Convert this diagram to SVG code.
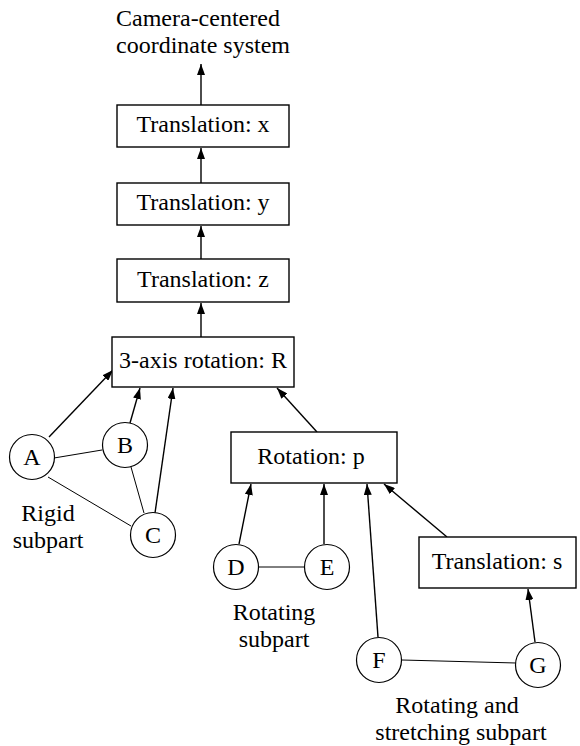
<svg xmlns="http://www.w3.org/2000/svg" width="580" height="746" viewBox="0 0 580 746">
<style>
text{font-family:"Liberation Serif","Times New Roman",serif;font-size:24px;fill:#000}
.m{text-anchor:middle}
.box{fill:#fff;stroke:#000;stroke-width:1.4}
.node{fill:#fff;stroke:#000;stroke-width:1.2}
.arr{stroke:#000;stroke-width:1.4;fill:none;marker-end:url(#ah)}
.lnk{stroke:#000;stroke-width:1;fill:none}
</style>
<defs>
<marker id="ah" markerUnits="userSpaceOnUse" markerWidth="11" markerHeight="8" refX="11" refY="4" orient="auto">
<path d="M0,0 L11,4 L0,8 z" fill="#000"/>
</marker>
</defs>
<g id="title">
<text x="116" y="26">Camera-centered</text>
<text x="116" y="53">coordinate system</text>
</g>
<g id="connectors">
<line class="arr" x1="201" y1="105" x2="201" y2="64"/>
<line class="arr" x1="201" y1="183" x2="201" y2="148"/>
<line class="arr" x1="201" y1="259" x2="201" y2="226"/>
<line class="arr" x1="201" y1="337" x2="201" y2="303"/>
<line class="arr" x1="49" y1="437" x2="113" y2="370"/>
<line class="arr" x1="130" y1="423" x2="140" y2="388"/>
<line class="arr" x1="155" y1="513" x2="173" y2="388"/>
<line class="lnk" x1="54" y1="458" x2="102" y2="450"/>
<line class="lnk" x1="48" y1="477" x2="131" y2="526"/>
<line class="lnk" x1="131" y1="467" x2="144" y2="513"/>
<line class="arr" x1="317" y1="432" x2="277" y2="388"/>
<line class="arr" x1="239" y1="544" x2="251" y2="484"/>
<line class="arr" x1="324" y1="544" x2="324" y2="484"/>
<line class="arr" x1="378" y1="637" x2="367" y2="484"/>
<line class="arr" x1="447" y1="537" x2="384" y2="484"/>
<line class="arr" x1="535" y1="642" x2="528" y2="589"/>
<line class="lnk" x1="259" y1="567" x2="304" y2="567" stroke="#555"/>
<line class="lnk" x1="402" y1="660" x2="516" y2="663"/>
</g>
<g id="tx"><rect class="box" x="117" y="105" width="172" height="42"/><text class="m" x="203" y="132">Translation: x</text></g>
<g id="ty"><rect class="box" x="117" y="183" width="172" height="42"/><text class="m" x="203" y="210">Translation: y</text></g>
<g id="tz"><rect class="box" x="117" y="259" width="172" height="43"/><text class="m" x="203" y="287">Translation: z</text></g>
<g id="rotR"><rect class="box" x="112" y="337" width="182" height="50"/><text class="m" x="203" y="368">3-axis rotation: R</text></g>
<g id="rotP"><rect class="box" x="231" y="432" width="166" height="51"/><text class="m" x="311" y="464">Rotation: p</text></g>
<g id="transS"><rect class="box" x="419" y="537" width="157" height="51"/><text class="m" x="497" y="569">Translation: s</text></g>
<g id="A"><circle class="node" cx="32" cy="457" r="22.5"/><text class="m" x="32" y="465">A</text></g>
<g id="B"><circle class="node" cx="125" cy="445" r="22.5"/><text class="m" x="125" y="453">B</text></g>
<g id="C"><circle class="node" cx="153" cy="535" r="22.5"/><text class="m" x="153" y="543">C</text></g>
<g id="D"><circle class="node" cx="236" cy="567" r="22.5"/><text class="m" x="236" y="575">D</text></g>
<g id="E"><circle class="node" cx="327" cy="567" r="22.5"/><text class="m" x="327" y="575">E</text></g>
<g id="F"><circle class="node" cx="379" cy="660" r="22.5"/><text class="m" x="379" y="668">F</text></g>
<g id="G"><circle class="node" cx="538" cy="665" r="22.5"/><text class="m" x="538" y="673">G</text></g>
<g id="labels">
<text class="m" x="48" y="521">Rigid</text>
<text class="m" x="48" y="548">subpart</text>
<text class="m" x="274" y="620">Rotating</text>
<text class="m" x="274" y="647">subpart</text>
<text class="m" x="457" y="713">Rotating and</text>
<text class="m" x="461" y="740">stretching subpart</text>
</g>
</svg>
